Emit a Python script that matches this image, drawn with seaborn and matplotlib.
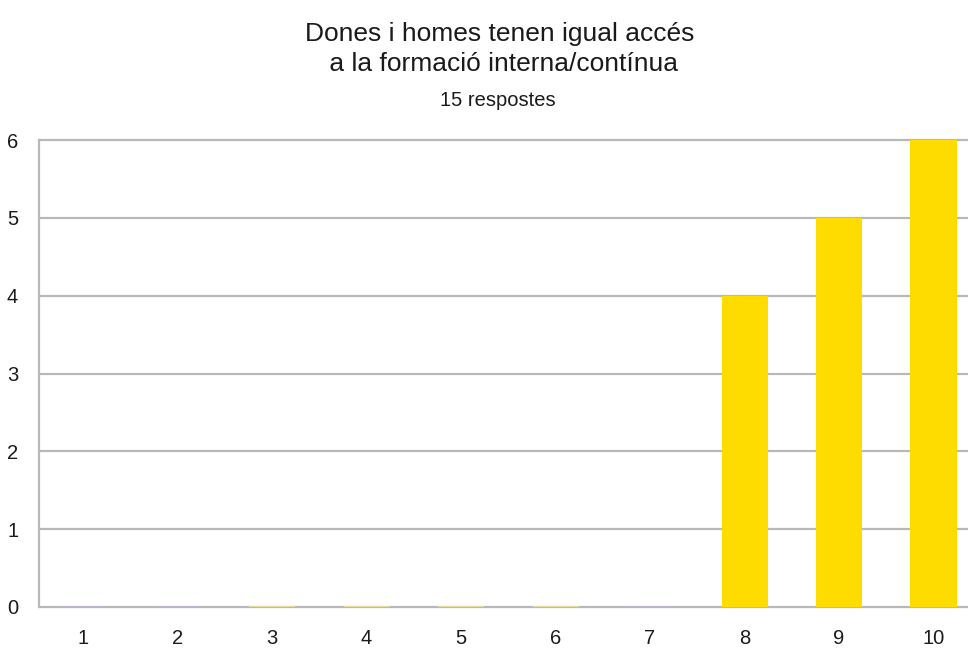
import matplotlib
matplotlib.use("Agg")
import matplotlib.pyplot as plt
import seaborn as sns
import pandas as pd

# Survey scores 1..10 and how many answers each received
scores = ["1", "2", "3", "4", "5", "6", "7", "8", "9", "10"]
counts = [0, 0, 0, 0, 0, 0, 0, 4, 5, 6]
y_ticks = [0, 1, 2, 3, 4, 5, 6]

title = "Dones i homes tenen igual accés\n a la formació interna/contínua"
subtitle = "15 respostes"

BAR = "#ffdc00"
# faint baseline strokes on the empty score columns
empty_colors = ["#c4b6d6", "#c4b6d6", "#ece39a", "#ece39a",
                "#ece39a", "#ece39a", "#c4b6d6", BAR, BAR, BAR]
GRID = "#b8b8b8"
TEXT = "#1a1a1a"

sns.set_theme(style="white")
plt.rcParams["font.family"] = ["Liberation Sans", "DejaVu Sans"]

df = pd.DataFrame({"score": scores, "count": counts})

fig = plt.figure(figsize=(9.68, 6.51), dpi=100)
ax = fig.add_axes([39 / 968, 44 / 651, 929 / 968, 467 / 651])

sns.barplot(data=df, x="score", y="count", hue="score", palette=[BAR] * len(scores),
            legend=False, width=0.487, ax=ax, zorder=3, saturation=1,
            linewidth=0, edgecolor=BAR)

for patch, c, v in zip(ax.patches, empty_colors, counts):
    if v == 0:
        patch.set_edgecolor(c)
        patch.set_linewidth(1.2)
        patch.set_facecolor(c)

ax.set_xlim(-0.466, 9.365)
ax.set_ylim(0, 6)
ax.set_yticks(y_ticks)
ax.set_yticklabels([str(t) for t in y_ticks])
for t in y_ticks:
    ax.axhline(t, color=GRID, lw=1.6, zorder=1, clip_on=False)

ax.set_xlabel("")
ax.set_ylabel("")
for side in ["top", "right", "bottom"]:
    ax.spines[side].set_visible(False)
ax.spines["left"].set_color(GRID)
ax.spines["left"].set_linewidth(1.6)
ax.tick_params(axis="both", length=0, labelsize=14.5, colors=TEXT)
ax.tick_params(axis="y", pad=15)
ax.tick_params(axis="x", pad=16)

fig.text(500 / 968, 1 - 49 / 651, title, ha="center", va="center",
         fontsize=19, color=TEXT, linespacing=1.32)
fig.text(498 / 968, 1 - 100 / 651, subtitle, ha="center", va="center",
         fontsize=14.5, color=TEXT)

fig.savefig("out.png", dpi=100)
